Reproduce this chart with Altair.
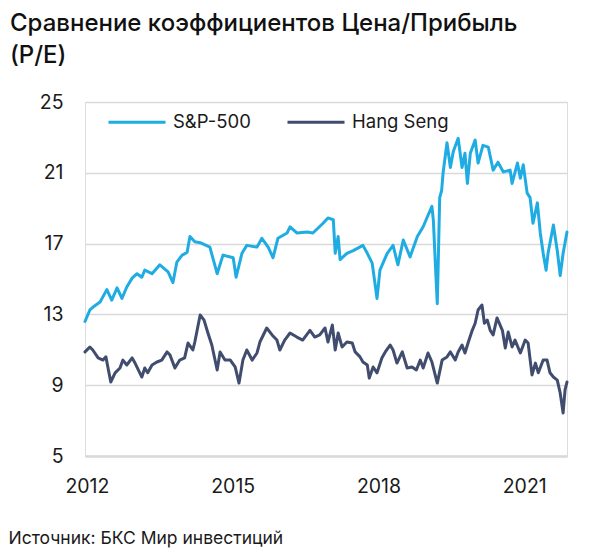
import altair as alt
import pandas as pd

# S&P-500 forward P/E (x in fractional years)
sp_t = [2011.96, 2012.06, 2012.12, 2012.27, 2012.41, 2012.51, 2012.62, 2012.72, 2012.82, 2012.93,
        2013.03, 2013.13, 2013.19, 2013.34, 2013.50, 2013.67, 2013.77, 2013.85, 2013.96, 2014.06,
        2014.12, 2014.22, 2014.33, 2014.53, 2014.68, 2014.80, 2015.01, 2015.07, 2015.19, 2015.29,
        2015.50, 2015.60, 2015.73, 2015.83, 2015.93, 2016.12, 2016.18, 2016.32, 2016.53, 2016.65,
        2016.86, 2016.96, 2017.07, 2017.11, 2017.17, 2017.21, 2017.35, 2017.48, 2017.68, 2017.77,
        2017.87, 2017.97, 2018.03, 2018.18, 2018.30, 2018.40, 2018.51, 2018.65, 2018.80, 2018.92,
        2019.02, 2019.10, 2019.13, 2019.17, 2019.21, 2019.23, 2019.26, 2019.30, 2019.33, 2019.41,
        2019.48, 2019.54, 2019.64, 2019.72, 2019.78, 2019.83, 2019.89, 2019.99, 2020.05, 2020.15,
        2020.26, 2020.36, 2020.46, 2020.57, 2020.71, 2020.75, 2020.86, 2020.92, 2020.98, 2021.06,
        2021.12, 2021.18, 2021.27, 2021.33, 2021.39, 2021.45, 2021.49, 2021.60, 2021.68, 2021.74,
        2021.80, 2021.88]
sp_v = [12.6, 13.25, 13.4, 13.7, 14.4, 13.8, 14.5, 13.9, 14.55, 15.05,
        15.3, 15.1, 15.5, 15.3, 15.8, 15.4, 14.8, 15.95, 16.35, 16.5,
        17.4, 17.1, 17.05, 16.8, 15.3, 16.35, 16.2, 15.1, 16.45, 16.9,
        16.8, 17.3, 16.8, 16.2, 17.3, 17.6, 17.95, 17.6, 17.65, 17.6,
        18.15, 18.45, 18.35, 16.45, 17.4, 16.1, 16.45, 16.6, 16.9, 16.45,
        15.9, 13.9, 15.5, 16.45, 16.9, 15.8, 17.2, 16.25, 17.4, 17.95,
        18.6, 19.1, 18.3, 15.9, 13.6, 15.9, 19.6, 20.0, 21.0, 22.7,
        21.3, 22.2, 22.95, 21.3, 22.1, 20.4, 22.1, 22.85, 21.55, 22.55,
        22.45, 21.15, 21.6, 21.05, 21.15, 20.4, 21.55, 20.7, 21.45, 19.85,
        19.6, 18.15, 19.3, 17.6, 16.45, 15.5, 16.45, 18.05, 16.6, 15.2,
        16.45, 17.65]

# Hang Seng P/E
hs_t = [2011.96, 2012.06, 2012.12, 2012.23, 2012.33, 2012.39, 2012.49, 2012.58, 2012.68, 2012.74,
        2012.82, 2012.93, 2012.99, 2013.13, 2013.19, 2013.25, 2013.34, 2013.44, 2013.54, 2013.65,
        2013.71, 2013.81, 2013.91, 2014.01, 2014.08, 2014.18, 2014.22, 2014.33, 2014.41, 2014.49,
        2014.57, 2014.68, 2014.74, 2014.84, 2014.95, 2015.05, 2015.13, 2015.21, 2015.29, 2015.40,
        2015.50, 2015.56, 2015.70, 2015.81, 2015.91, 2015.97, 2016.07, 2016.18, 2016.32, 2016.44,
        2016.59, 2016.69, 2016.79, 2016.90, 2016.96, 2017.05, 2017.11, 2017.17, 2017.25, 2017.35,
        2017.46, 2017.52, 2017.62, 2017.68, 2017.77, 2017.81, 2017.89, 2017.97, 2018.07, 2018.14,
        2018.24, 2018.30, 2018.38, 2018.49, 2018.59, 2018.69, 2018.78, 2018.86, 2018.92, 2019.02,
        2019.10, 2019.21, 2019.31, 2019.41, 2019.48, 2019.58, 2019.64, 2019.72, 2019.78, 2019.85,
        2019.93, 2019.99, 2020.05, 2020.13, 2020.18, 2020.24, 2020.30, 2020.36, 2020.44, 2020.55,
        2020.61, 2020.67, 2020.75, 2020.81, 2020.92, 2021.02, 2021.08, 2021.16, 2021.23, 2021.29,
        2021.39, 2021.47, 2021.53, 2021.60, 2021.68, 2021.74, 2021.80, 2021.84, 2021.88]
hs_v = [10.88, 11.16, 10.99, 10.54, 10.42, 10.6, 9.18, 9.7, 9.97, 10.42,
        10.14, 10.54, 10.25, 9.46, 9.97, 9.7, 10.14, 10.31, 10.42, 10.88,
        10.7, 9.97, 10.42, 10.54, 11.38, 10.99, 11.44, 12.97, 12.68, 11.95,
        11.27, 9.86, 10.88, 10.42, 10.42, 10.03, 9.12, 10.42, 10.99, 10.42,
        10.82, 11.44, 12.23, 11.84, 11.55, 10.99, 11.55, 11.95, 11.72, 11.55,
        12.1, 11.72, 11.84, 12.23, 11.44, 12.4, 10.99, 11.95, 11.16, 11.44,
        11.38, 10.88, 10.6, 10.31, 10.14, 9.4, 10.03, 9.7, 10.54, 10.88,
        11.27, 10.99, 10.25, 10.88, 9.97, 10.03, 9.86, 10.42, 9.97, 10.82,
        10.31, 9.12, 10.42, 10.6, 10.88, 10.42, 10.88, 11.27, 10.82, 11.44,
        12.1, 12.5, 13.25, 13.53, 12.5, 12.68, 12.1, 11.84, 12.8, 12.1,
        11.1, 12.0, 11.16, 11.55, 10.82, 11.55, 11.38, 9.58, 10.25, 9.7,
        10.42, 10.42, 9.7, 9.46, 9.29, 8.56, 7.43, 8.73, 9.18]

series = ["S&P-500", "Hang Seng"]
colors = ["#1FACE3", "#414D6E"]
y_ticks = [5, 9, 13, 17, 21, 25]
x_ticks = [2012, 2015, 2018, 2021]
title_lines = ["Сравнение коэффициентов Цена/Прибыль", "(P/E)"]
source = "Источник: БКС Мир инвестиций"

df = pd.concat([
    pd.DataFrame({"t": sp_t, "v": sp_v, "s": series[0]}),
    pd.DataFrame({"t": hs_t, "v": hs_v, "s": series[1]}),
], ignore_index=True)

FONT = "Inter"

chart = alt.Chart(df).mark_line(strokeWidth=3, strokeJoin="round", strokeCap="round").encode(
    x=alt.X("t:Q",
            scale=alt.Scale(domain=[2011.96, 2021.88], nice=False, zero=False),
            axis=alt.Axis(values=x_ticks, format="d", grid=False, ticks=False, tickSize=0,
                          domain=True, domainColor="#d9d9d9", domainWidth=2.5,
                          labelPadding=21, labelFontSize=19.5, labelFont=FONT, labelColor="#1a1a1a",
                          labelFlush=False,
                          title=source, titleX=-77, titleY=87, titleAlign="left",
                          titleBaseline="alphabetic", titleFontWeight="normal",
                          titleFontSize=17.5, titleFont=FONT, titleColor="#1a1a1a")),
    y=alt.Y("v:Q",
            scale=alt.Scale(domain=[5, 25], nice=False, zero=False),
            axis=alt.Axis(values=y_ticks, grid=True, gridColor="#d9d9d9", gridWidth=1.3,
                          domain=False, ticks=False, tickSize=0, labelPadding=22,
                          labelFontSize=19.5, labelFont=FONT, labelColor="#1a1a1a", title=None)),
    color=alt.Color("s:N", scale=alt.Scale(domain=series, range=colors),
                    legend=alt.Legend(orient="none", legendX=22, legendY=-10, direction="horizontal",
                                      title=None, symbolType="stroke", symbolSize=3249,
                                      symbolStrokeWidth=3, labelFontSize=18.5, labelFont=FONT,
                                      labelColor="#1a1a1a", labelOffset=6, columnPadding=30,
                                      padding=0)),
).properties(
    width=482, height=354,
    autosize=alt.AutoSizeParams(type="none"),
    padding={"left": 77, "top": 94, "right": 17, "bottom": 92},
    title=alt.TitleParams(text=title_lines, anchor="start", frame="group", dx=-75, offset=24,
                          fontSize=24, font=FONT, fontWeight=500, color="#111111", lineHeight=32),
).configure_view(stroke=None).configure(background="white")

chart.save("out.html", embed_options={"renderer": "svg", "actions": False})
